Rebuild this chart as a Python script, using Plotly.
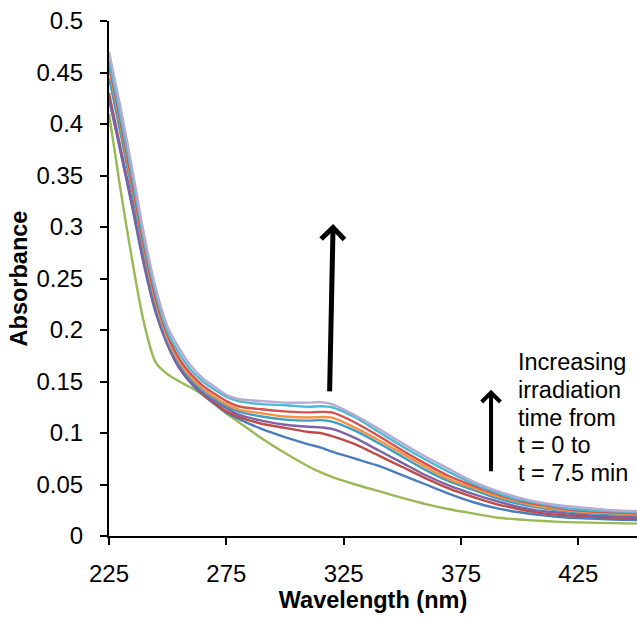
import plotly.graph_objects as go

# ---------------- data ----------------
wavelength = [225, 230, 235, 240, 245, 250, 255, 260, 265, 270, 275, 280, 290, 300,
              310, 315, 320, 330, 340, 350, 360, 370, 380, 390, 400, 410, 420, 430, 440, 450]

abs_green = [0.410, 0.335, 0.266, 0.206, 0.168, 0.157, 0.150, 0.144, 0.137, 0.128, 0.119, 0.111,
             0.095, 0.0805, 0.0675, 0.062, 0.0575, 0.050, 0.0435, 0.037, 0.031, 0.026, 0.022, 0.018,
             0.016, 0.0145, 0.0135, 0.013, 0.0125, 0.012]
abs_blue = [0.425, 0.372, 0.318, 0.262, 0.216, 0.185, 0.163, 0.148, 0.137, 0.128, 0.120, 0.114,
            0.104, 0.096, 0.089, 0.086, 0.082, 0.075, 0.068, 0.059, 0.050, 0.041, 0.033, 0.027,
            0.023, 0.020, 0.018, 0.017, 0.016, 0.0155]
abs_darkred = [0.430, 0.376, 0.322, 0.265, 0.218, 0.187, 0.164, 0.149, 0.138, 0.129, 0.121, 0.116,
               0.109, 0.105, 0.101, 0.100, 0.097, 0.089, 0.078, 0.067, 0.056, 0.046, 0.038, 0.031,
               0.026, 0.022, 0.020, 0.019, 0.018, 0.017]
abs_purple = [0.425, 0.373, 0.320, 0.264, 0.218, 0.186, 0.163, 0.149, 0.139, 0.131, 0.124, 0.118,
              0.112, 0.108, 0.106, 0.1055, 0.104, 0.095, 0.083, 0.071, 0.059, 0.049, 0.041, 0.034,
              0.028, 0.024, 0.022, 0.020, 0.019, 0.018]
abs_teal = [0.445, 0.390, 0.333, 0.274, 0.224, 0.190, 0.167, 0.152, 0.141, 0.133, 0.126, 0.121,
            0.116, 0.113, 0.112, 0.1125, 0.111, 0.102, 0.090, 0.077, 0.064, 0.053, 0.045, 0.037,
            0.031, 0.027, 0.024, 0.022, 0.021, 0.020]
abs_orange = [0.455, 0.398, 0.339, 0.278, 0.227, 0.192, 0.169, 0.154, 0.143, 0.135, 0.128, 0.123,
              0.119, 0.116, 0.115, 0.1155, 0.115, 0.105, 0.093, 0.080, 0.067, 0.055, 0.047, 0.039,
              0.033, 0.028, 0.025, 0.023, 0.022, 0.021]
abs_red = [0.458, 0.401, 0.342, 0.281, 0.230, 0.195, 0.172, 0.157, 0.146, 0.138, 0.131, 0.126,
           0.123, 0.121, 0.120, 0.1205, 0.120, 0.110, 0.097, 0.083, 0.070, 0.058, 0.049, 0.041,
           0.034, 0.030, 0.026, 0.024, 0.023, 0.022]
abs_cyan = [0.462, 0.406, 0.348, 0.286, 0.235, 0.198, 0.177, 0.161, 0.150, 0.142, 0.135, 0.131,
            0.128, 0.127, 0.1255, 0.126, 0.125, 0.115, 0.101, 0.087, 0.074, 0.062, 0.051, 0.042,
            0.035, 0.031, 0.027, 0.025, 0.024, 0.023]
abs_lavender = [0.470, 0.415, 0.355, 0.292, 0.240, 0.203, 0.182, 0.165, 0.153, 0.145, 0.137, 0.133,
                0.131, 0.1295, 0.1295, 0.130, 0.128, 0.117, 0.104, 0.090, 0.077, 0.065, 0.053, 0.044,
                0.037, 0.032, 0.029, 0.027, 0.025, 0.024]

y_tickvals = [0, 0.05, 0.1, 0.15, 0.2, 0.25, 0.3, 0.35, 0.4, 0.45, 0.5]
y_ticktext = ["0", "0.05", "0.1", "0.15", "0.2", "0.25", "0.3", "0.35", "0.4", "0.45", "0.5"]
x_tickvals = [225, 275, 325, 375, 425]

note_lines = ["Increasing", "irradiation", "time from", "t = 0 to", "t = 7.5 min"]

# ---------------- figure ----------------
series = [
    ("t0", abs_green, "#98B954"),
    ("t1", abs_blue, "#4A7EBB"),
    ("t2", abs_darkred, "#BE4B48"),
    ("t3", abs_purple, "#7E62A1"),
    ("t4", abs_teal, "#3F9EC2"),
    ("t5", abs_orange, "#F59343"),
    ("t6", abs_red, "#D5524E"),
    ("t7", abs_cyan, "#4BBAD6"),
    ("t8", abs_lavender, "#B9AACF"),
]

FONT = "Liberation Sans, Arial, sans-serif"

fig = go.Figure()
for name, vals, col in series:
    fig.add_trace(go.Scatter(x=wavelength, y=vals, mode="lines", name=name,
                             line=dict(color=col, width=2.4, shape="spline", smoothing=0.8),
                             showlegend=False, hoverinfo="x+y+name"))

# big arrow
fig.add_annotation(x=320.5, y=0.303, ax=319, ay=0.139, xref="x", yref="y", axref="x", ayref="y",
                   text="", showarrow=True, arrowhead=4, arrowsize=0.9, arrowwidth=5,
                   arrowcolor="black")
# small arrow
fig.add_annotation(x=387.8, y=0.142, ax=387.8, ay=0.0615, xref="x", yref="y", axref="x", ayref="y",
                   text="", showarrow=True, arrowhead=4, arrowsize=0.9, arrowwidth=4,
                   arrowcolor="black")

note_y = [0.169, 0.142, 0.115, 0.088, 0.061]
for txt, yy in zip(note_lines, note_y):
    fig.add_annotation(x=398.5, y=yy, xref="x", yref="y", text=txt, showarrow=False,
                       xanchor="left", yanchor="middle", align="left",
                       font=dict(family=FONT, size=23.5, color="black"))

fig.update_layout(
    width=637, height=618,
    margin=dict(l=109, r=0, t=21, b=82),
    paper_bgcolor="white", plot_bgcolor="white",
    font=dict(family=FONT, size=24, color="black"),
    xaxis=dict(range=[225, 450], tickvals=x_tickvals, showgrid=False, zeroline=False,
               showline=True, linecolor="black", linewidth=2, ticks="outside",
               ticklen=7, tickwidth=2, tickcolor="black", ticklabelstandoff=8,
               title=dict(text="<b>Wavelength (nm)</b>", standoff=6,
                          font=dict(family=FONT, size=23.5))),
    yaxis=dict(range=[0, 0.5], tickvals=y_tickvals, ticktext=y_ticktext, showgrid=False,
               zeroline=False, showline=True, linecolor="black", linewidth=2,
               ticks="outside", ticklen=7, tickwidth=2, tickcolor="black",
               ticklabelstandoff=12,
               title=dict(text="<b>Absorbance</b>", standoff=2,
                          font=dict(family=FONT, size=23.5))),
)

fig.write_html("out.html", config={"displayModeBar": False})

with open("out.html", "r", encoding="utf-8") as f:
    html = f.read()
html = html.replace("<head>", "<head><style>html,body{margin:0;padding:0;overflow:hidden;}</style>", 1)
with open("out.html", "w", encoding="utf-8") as f:
    f.write(html)
